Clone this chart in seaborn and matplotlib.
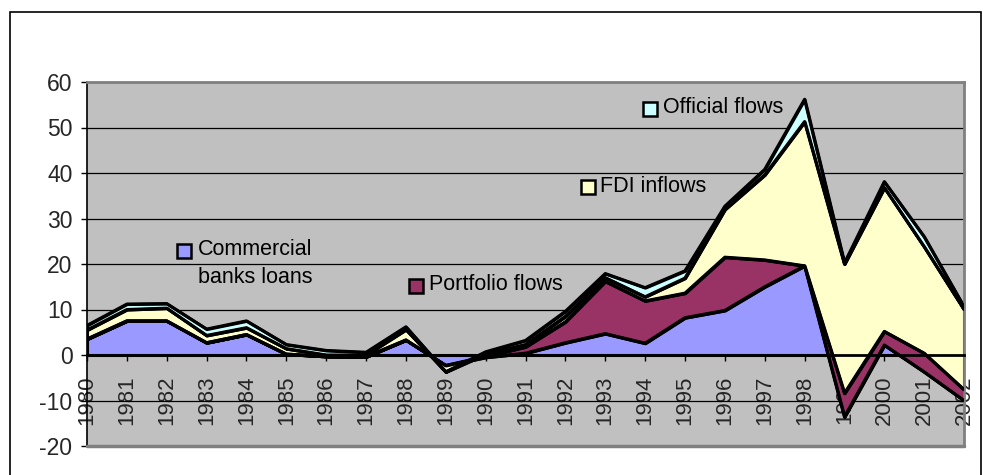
import numpy as np
import pandas as pd
import matplotlib
matplotlib.use("Agg")
import matplotlib.pyplot as plt
import seaborn as sns
from matplotlib.patches import Rectangle
from matplotlib.lines import Line2D

# Net capital flows by type, 1980-2002
years = list(range(1980, 2003))
banks = [3.5, 7.5, 7.5, 2.7, 4.5, 0.2, -0.3, -0.4, 3.3, -2.3, -0.5, 0.4,
         2.7, 4.7, 2.6, 8.2, 9.8, 15.0, 19.6, -13.6, 2.2, -3.7, -10.0]
portfolio = [0.0, 0.0, 0.0, 0.0, 0.0, 0.0, 0.0, 0.0, 0.0, 0.0, 0.2, 1.4,
             4.6, 11.5, 9.3, 5.4, 11.7, 5.9, 0.0, 5.2, 3.0, 4.1, 2.4]
fdi = [2.0, 2.5, 2.8, 1.6, 1.5, 1.2, 0.3, 0.4, 2.3, -1.4, 0.5, 0.5,
       1.2, 0.8, 0.9, 3.3, 10.5, 18.7, 31.7, 28.4, 31.6, 23.4, 17.6]
official = [1.0, 1.2, 1.0, 1.4, 1.5, 0.9, 1.0, 0.6, 0.6, 0.0, 0.5, 0.9,
            1.1, 0.9, 2.0, 1.6, 0.7, 1.2, 4.9, 0.2, 1.3, 2.2, 0.6]

series_names = ["Commercial banks loans", "Portfolio flows", "FDI inflows", "Official flows"]
series_colors = ["#9999FF", "#993366", "#FFFFCC", "#CCFFFF"]
y_ticks = [-20, -10, 0, 10, 20, 30, 40, 50, 60]

sns.set_style("white")
plt.rcParams["font.family"] = ["Liberation Sans", "DejaVu Sans"]
plt.rcParams["axes.unicode_minus"] = False

wide = pd.DataFrame({"year": years,
                     series_names[0]: banks,
                     series_names[1]: portfolio,
                     series_names[2]: fdi,
                     series_names[3]: official})
cum = wide[series_names].cumsum(axis=1)
cum.insert(0, "base", 0.0)
cum["year"] = years

long_top = cum.melt(id_vars="year", value_vars=series_names,
                    var_name="series", value_name="top")

W, H = 983, 475
fig = plt.figure(figsize=(W / 100, H / 100), dpi=100)
ax = fig.add_axes([87 / W, 1 - 446 / H, 877 / W, 364 / H])
ax.set_facecolor("#C0C0C0")

# stacked fills between consecutive cumulative totals
prev = "base"
for name, col in zip(series_names, series_colors):
    ax.fill_between(cum["year"], cum[prev], cum[name], facecolor=col,
                    edgecolor="black", linewidth=2.2, zorder=2)
    prev = name

# boundary lines of each stacked layer
sns.lineplot(data=long_top, x="year", y="top", hue="series",
             palette={n: "black" for n in series_names}, linewidth=2.2,
             legend=False, estimator=None, ax=ax, zorder=3)

# axis frame: category axis crosses at zero
for s in ["top", "right"]:
    ax.spines[s].set_color("#808080")
    ax.spines[s].set_linewidth(2)
ax.spines["left"].set_color("black")
ax.spines["left"].set_linewidth(1.2)
ax.spines["bottom"].set_position(("data", 0))
ax.spines["bottom"].set_color("black")
ax.spines["bottom"].set_linewidth(2)
ax.spines["bottom"].set_zorder(4)
ax.add_line(Line2D([0, 1], [0, 0], transform=ax.transAxes, color="#808080",
                   linewidth=2.5, clip_on=False, zorder=5))

ax.set_xlim(1980, 2002)
ax.set_ylim(-20, 60)
ax.set_yticks(y_ticks)
ax.set_xticks(years)
ax.set_xticklabels([str(y) for y in years])
ax.set_xlabel("")
ax.set_ylabel("")

ax.yaxis.grid(True, color="black", linewidth=0.9)
ax.xaxis.grid(False)
ax.set_axisbelow(True)

ax.tick_params(axis="y", direction="out", length=4.5, width=1, color="black",
               labelsize=16.5, pad=6, left=True)
ax.tick_params(axis="x", direction="out", length=4.5, width=1, color="black",
               labelsize=16, pad=10, bottom=True, labelrotation=90)

# in-plot series labels with legend keys
label_specs = [
    (0, 1982.44, 22.9, [("Commercial", 1982.79, 23.1), ("banks loans", 1982.79, 17.0)]),
    (1, 1988.26, 15.2, [("Portfolio flows", 1988.59, 15.4)]),
    (2, 1992.56, 36.9, [("FDI inflows", 1992.86, 37.1)]),
    (3, 1994.12, 54.0, [("Official flows", 1994.44, 54.3)]),
]
for idx, kx, ky, lines in label_specs:
    ax.plot([kx], [ky], marker="s", markersize=9.5, markerfacecolor=series_colors[idx],
            markeredgecolor="black", markeredgewidth=1.8, linestyle="none", zorder=6)
    for txt, tx, ty in lines:
        ax.text(tx, ty, txt, fontsize=15.5, ha="left", va="center", color="black", zorder=6)

# outer chart frame
fig.patches.append(Rectangle((10 / W, -0.05), (981 - 10) / W, 1.05 - 12 / H,
                             transform=fig.transFigure, fill=False,
                             edgecolor="black", linewidth=1.2))

fig.savefig("out.png", dpi=100)
